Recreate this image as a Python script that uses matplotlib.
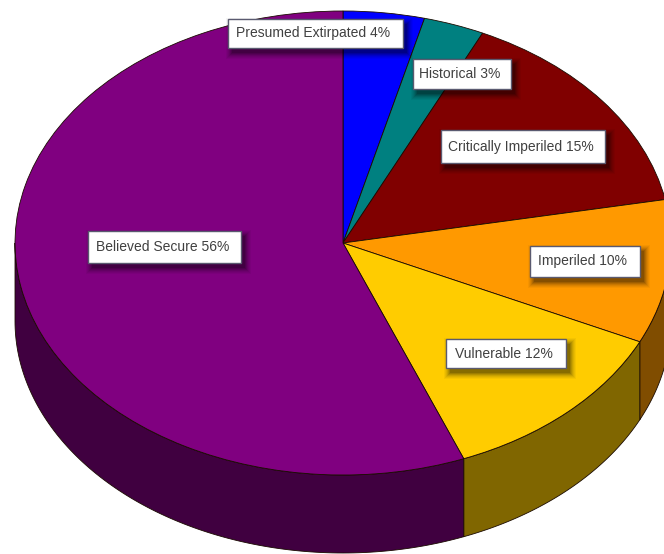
import numpy as np
import matplotlib
matplotlib.use('Agg')
import matplotlib.pyplot as plt
from matplotlib.patches import Rectangle
from matplotlib.colors import to_rgb

plt.rcParams['font.family'] = ['Liberation Sans', 'DejaVu Sans']

# status categories, clockwise from 12 o'clock
categories = ['Presumed Extirpated', 'Historical', 'Critically Imperiled',
              'Imperiled', 'Vulnerable', 'Believed Secure']
percents = [4, 3, 15, 10, 12, 56]
slice_colors = ['#0000ff', '#008080', '#800000', '#ff9900', '#ffcc00', '#800080']

W, H = 664, 554
# pie centre and radii in pixels, thickness of the side wall
cx, cy = 343, 243
rx, ry = 328, 232
depth = 78 / ry

# label boxes in pixels: left, top, right, bottom
label_boxes = [(228, 19, 403, 48), (413, 59, 511, 89), (441, 130, 605, 163),
               (530, 246, 640, 277), (446, 339, 566, 368), (88, 231, 241, 263)]

fig = plt.figure(figsize=(W / 100, H / 100), dpi=100)
ax = fig.add_axes([0, 0, 1, 1])
ax.pie(percents, colors=slice_colors, startangle=90, counterclock=False, radius=1,
       wedgeprops={'edgecolor': '#1a0a00', 'linewidth': 0.6})
ax.set_aspect('auto')
ax.set_xlim(-cx / rx, (W - cx) / rx)
ax.set_ylim((cy - H) / ry, cy / ry)

# side wall, only the front half of the rim (90 to 270 degrees clockwise from the top)
edges = np.cumsum([0] + percents) * 3.6
for i, c in enumerate(slice_colors):
    a0, a1 = max(edges[i], 90), min(edges[i + 1], 270)
    if a1 <= a0:
        continue
    t = np.radians(np.linspace(a0, a1, 120))
    x, y = np.sin(t), np.cos(t)
    xs = np.concatenate([x, x[::-1]])
    ys = np.concatenate([y, y[::-1] - depth])
    ax.fill(xs, ys, facecolor=np.array(to_rgb(c)) * 0.5, edgecolor='#1a0a00',
            linewidth=0.6, zorder=0.5)

# overlay in pixel coordinates for the labels
over = fig.add_axes([0, 0, 1, 1])
over.set_xlim(0, W)
over.set_ylim(H, 0)
over.axis('off')

for name, pct, (l, t, r, b) in zip(categories, percents, label_boxes):
    # soft drop shadow
    for grow, alpha in zip([6, 5, 4, 3, 2, 1, 0], [0.04, 0.05, 0.06, 0.08, 0.10, 0.12, 0.14]):
        over.add_patch(Rectangle((l + 4 - grow, t + 5 - grow), r - l + 2 * grow, b - t + 2 * grow,
                                 facecolor='black', edgecolor='none', alpha=alpha))
    over.add_patch(Rectangle((l, t), r - l, b - t, facecolor='white',
                             edgecolor='#5a5a70', linewidth=1.0))
    over.text((l + r) / 2 - 2, (t + b) / 2, f'{name} {pct}%', ha='center', va='center',
              fontsize=10, color='#404040')

fig.savefig('out.png', dpi=100)
